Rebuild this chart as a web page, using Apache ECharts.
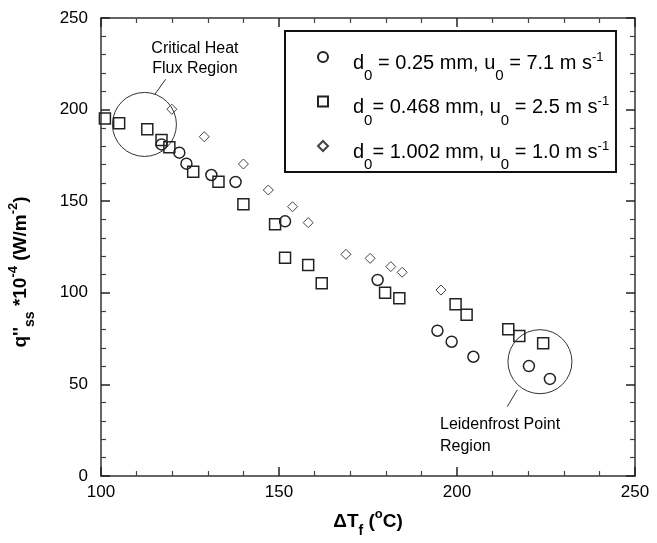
<!DOCTYPE html>
<html lang="en">
<head>
<meta charset="UTF-8">
<title>Heat flux vs wall superheat</title>
<script src="https://cdn.jsdelivr.net/npm/echarts@6/dist/echarts.min.js"></script>
<style>
    html, body { margin: 0; padding: 0; background: #fff; }
    #chart { width: 657px; height: 543px; }
</style>
</head>
<body>
<div id="chart"></div>
<script>
    // tick values of the two axes
    const xTicks = [100, 150, 200, 250];
    const yTicks = [0, 50, 100, 150, 200, 250];

    // [dT_f (C), q''ss * 1e-4 (W/m2)]
    const d025 = [[117, 181], [122, 176.5], [124, 170.5], [131, 164.3], [137.8, 160.5], [151.7, 139],
        [177.7, 107], [194.5, 79.3], [198.5, 73.3], [204.6, 65.1], [220.2, 60], [226.1, 53]];
    const d0468 = [[101.1, 195.2], [105.1, 192.5], [113, 189.3], [117, 183.4], [119.2, 179.4], [125.9, 166.1],
        [133, 160.6], [140, 148.3], [148.9, 137.4], [151.7, 119.2], [158.2, 115.2], [162, 105.2],
        [179.8, 100], [183.8, 97], [199.6, 93.7], [202.7, 88], [214.4, 80.1], [217.5, 76.4], [224.2, 72.4]];
    const d1002 = [[119.9, 200.2], [129, 185.2], [140, 170.3], [147, 156.1], [153.8, 147], [158.2, 138.3],
        [168.8, 121], [175.6, 118.8], [181.4, 114.3], [184.6, 111.2], [195.5, 101.5]];

    const seriesNames = ['d0 = 0.25 mm, u0 = 7.1 m s-1', 'd0 = 0.468 mm, u0 = 2.5 m s-1', 'd0 = 1.002 mm, u0 = 1.0 m s-1'];
    const legendRich = [
        '{sp| }{t|d}{sub|0}{t| = 0.25 mm, u}{sub|0}{t| = 7.1 m s}{sup|-1}',
        '{sp| }{t|d}{sub|0}{t|= 0.468 mm, u}{sub|0}{t| = 2.5 m s}{sup|-1}',
        '{sp| }{t|d}{sub|0}{t|= 1.002 mm, u}{sub|0}{t| = 1.0 m s}{sup|-1}'
    ];

    // annotated regions (centre in data units)
    const chfCenter = [112.2, 191.9];
    const lfpCenter = [223.3, 62.4];

    const font = 'Liberation Sans, Arial, sans-serif';
    const ink = '#222';

    const myChart = echarts.init(document.getElementById('chart'));

    const tickAxis = function (pos, min, max, step) {
        return {
            type: 'value', position: pos, min: min, max: max, interval: step,
            axisLine: { show: true, onZero: false, lineStyle: { color: '#333', width: 1.5 } },
            axisTick: { show: true, inside: true, length: 9, lineStyle: { color: '#222', width: 1.5 } },
            minorTick: { show: true, splitNumber: 5, length: 5, lineStyle: { color: '#444', width: 1.2 } },
            axisLabel: { show: false },
            splitLine: { show: false }
        };
    };

    const xMain = tickAxis('bottom', xTicks[0], xTicks[xTicks.length - 1], xTicks[1] - xTicks[0]);
    xMain.axisLabel = { show: true, margin: 8, color: '#000', fontSize: 17, fontFamily: font };
    const yMain = tickAxis('left', yTicks[0], yTicks[yTicks.length - 1], yTicks[1] - yTicks[0]);
    yMain.axisLabel = { show: true, margin: 13, color: '#000', fontSize: 17, fontFamily: font };

    const makeSeries = function (name, data, symbol, size, color, width) {
        return {
            name: name, type: 'scatter', data: data,
            xAxisIndex: 0, yAxisIndex: 0,
            symbol: symbol, symbolSize: size,
            itemStyle: { color: 'rgba(0,0,0,0)', borderColor: color, borderWidth: width, opacity: 1 },
            emphasis: { disabled: true }
        };
    };

    const option = {
        animation: false,
        backgroundColor: '#fff',
        textStyle: { fontFamily: font },
        grid: { left: 101, right: 22, top: 18, bottom: 67 },
        xAxis: [xMain, tickAxis('top', xTicks[0], xTicks[xTicks.length - 1], xTicks[1] - xTicks[0])],
        yAxis: [yMain, tickAxis('right', yTicks[0], yTicks[yTicks.length - 1], yTicks[1] - yTicks[0])],
        legend: {
            orient: 'vertical',
            left: 317, top: 49, padding: 0,
            itemWidth: 10, itemHeight: 10, itemGap: 10,
            selectedMode: false,
            data: seriesNames,
            formatter: function (name) {
                return legendRich[seriesNames.indexOf(name)];
            },
            textStyle: {
                color: '#000', fontFamily: font,
                rich: {
                    sp: { width: 20, fontSize: 16 },
                    t: { fontSize: 20, lineHeight: 40, height: 28, verticalAlign: 'bottom', color: '#000', fontFamily: font },
                    sub: { fontSize: 15, height: 2, verticalAlign: 'bottom', color: '#000', fontFamily: font },
                    sup: { fontSize: 13, verticalAlign: 'middle', color: '#000', fontFamily: font }
                }
            }
        },
        series: [
            makeSeries(seriesNames[0], d025, 'circle', 11, ink, 1.5),
            makeSeries(seriesNames[1], d0468, 'rect', 11, ink, 1.5),
            makeSeries(seriesNames[2], d1002, 'diamond', 10, '#444', 1)
        ]
    };

    myChart.setOption(option);

    // annotations, placed from data coordinates
    const c1 = myChart.convertToPixel({ seriesIndex: 0 }, chfCenter);
    const c2 = myChart.convertToPixel({ seriesIndex: 0 }, lfpCenter);
    const thin = { stroke: '#333', lineWidth: 1, fill: null };
    const labelRich = {
        b: { fontSize: 19, fontWeight: 'bold', lineHeight: 30, fontFamily: font, fill: '#000' },
        bs: { fontSize: 14, fontWeight: 'bold', height: 12, verticalAlign: 'bottom', fontFamily: font, fill: '#000' },
        bp: { fontSize: 13, fontWeight: 'bold', height: 14, verticalAlign: 'top', fontFamily: font, fill: '#000' }
    };

    myChart.setOption({
        graphic: [
            { type: 'rect', shape: { x: 285, y: 31, width: 331, height: 141 }, style: { stroke: '#111', lineWidth: 2, fill: null }, z: 1 },
            { type: 'circle', shape: { cx: c1[0], cy: c1[1], r: 32 }, style: thin, z: 1 },
            { type: 'line', shape: { x1: c1[0] + 10.5, y1: c1[1] - 30.2, x2: c1[0] + 21.2, y2: c1[1] - 45.2 }, style: thin, z: 1 },
            { type: 'text', x: c1[0] + 50.5, y: c1[1] - 65.5, style: { text: 'Critical Heat\nFlux Region', fontSize: 16, lineHeight: 20, fontFamily: font, fill: '#000', align: 'center', verticalAlign: 'middle' }, z: 1 },
            { type: 'circle', shape: { cx: c2[0], cy: c2[1], r: 32 }, style: thin, z: 1 },
            { type: 'line', shape: { x1: c2[0] - 22.7, y1: c2[1] + 28.3, x2: c2[0] - 32.7, y2: c2[1] + 45 }, style: thin, z: 1 },
            { type: 'text', x: 440, y: 436, style: { text: 'Leidenfrost Point\nRegion', fontSize: 16, lineHeight: 22, fontFamily: font, fill: '#000', align: 'left', verticalAlign: 'middle' }, z: 1 },
            {
                type: 'text', x: 368, y: 522,
                style: { text: '{b|ΔT}{bs|f}{b| (}{bp|o}{b|C)}', rich: labelRich, align: 'center', verticalAlign: 'middle' }
            },
            {
                type: 'text', x: 21, y: 272, rotation: Math.PI / 2,
                style: { text: "{b|q''}{bs|ss}{b| *10}{bp|-4}{b| (W/m}{bp|-2}{b|)}", rich: labelRich, align: 'center', verticalAlign: 'middle' }
            }
        ]
    });
</script>
</body>
</html>
